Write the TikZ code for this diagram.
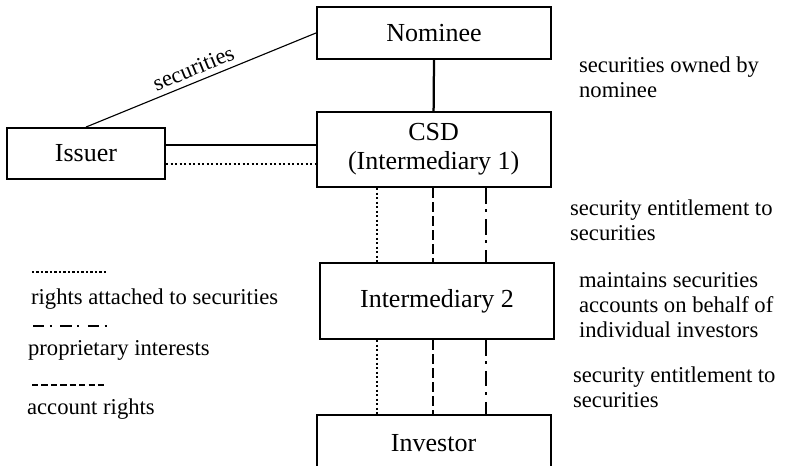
\documentclass[tikz,border=0pt]{standalone}
\usepackage{fontspec}
\setmainfont{Liberation Serif}
\usetikzlibrary{positioning,calc}
\tikzset{
	party/.style={draw, line width=1.5pt, inner sep=0, minimum width=5.85cm, align=center,
		font=\fontsize{18.5}{20.6}\selectfont},
	note/.style={inner sep=0, anchor=west, align=left, font=\fontsize{16.1}{17.8}\selectfont},
	rights/.style={line width=1.7pt, dash pattern=on 1.6pt off 1.6pt},
	proprietary/.style={line width=1.6pt, dash pattern=on 11pt off 4pt on 2pt off 5pt},
	account/.style={line width=1.6pt, dash pattern=on 7pt off 3pt}
}

\begin{document}
\begin{tikzpicture}[line width=1.6pt]
	\useasboundingbox (0,0) rectangle (19.675,-11.625);
	\node[party, minimum height=1.3cm] (nominee) at (10.85,-0.825) {Nominee};
	\node[party, minimum height=1.875cm] (csd) at (10.84,-3.74) {CSD\\(Intermediary 1)};
	\node[party, minimum width=3.95cm, minimum height=1.275cm] (issuer) at (2.15,-3.84) {Issuer};
	\node[party, minimum height=1.9cm] (inter2) at (10.925,-7.525) {Intermediary 2};
	\node[party, minimum height=1.4cm] (investor) at (10.84,-11.075) {Investor};
	
	\node[note] (ownedNote) at (14.45,-1.925) {securities owned by\\nominee};
	\node[note] (entNoteA) at (14.225,-5.5) {security entitlement to\\securities};
	\node[note] (maintNote) at (14.45,-7.625) {maintains securities\\accounts on behalf of\\individual investors};
	\node[note] (entNoteB) at (14.3,-9.6875) {security entitlement to\\securities};
	
	\node[note] (legRights) at (0.75,-7.475) {rights attached to securities};
	\node[note] (legProp) at (0.675,-8.75) {proprietary interests};
	\node[note] (legAcct) at (0.65,-10.225) {account rights};
	\draw[rights] (0.8,-6.8) -- ++(1.875,0);
	\draw[proprietary, dash pattern=on 8pt off 4pt on 1.5pt off 6pt] (0.825,-8.15) -- ++(1.925,0);
	\draw[account, dash pattern=on 4.5pt off 2.2pt] (0.8,-9.625) -- ++(1.875,0);
	
	\draw (nominee.south) -- (csd.north);
	\draw[line width=0.8pt] (issuer.north) -- node[note, anchor=south, sloped, pos=0.49, yshift=4pt] {securities} (nominee.west);
	\coordinate (solidRow) at (0,-3.625);
	\coordinate (dotRow) at (0,-4.1);
	\draw (issuer.east |- solidRow) -- (csd.west |- solidRow);
	\draw[rights] (issuer.east |- dotRow) -- (csd.west |- dotRow);
	
	\foreach \x/\kind in {9.425/rights, 10.825/account, 12.15/proprietary}{
		\coordinate (col) at (\x,0);
		\draw[\kind] (col |- csd.south) -- (col |- inter2.north);
		\draw[\kind] (col |- inter2.south) -- (col |- investor.north);
	}
\end{tikzpicture}
\end{document}
